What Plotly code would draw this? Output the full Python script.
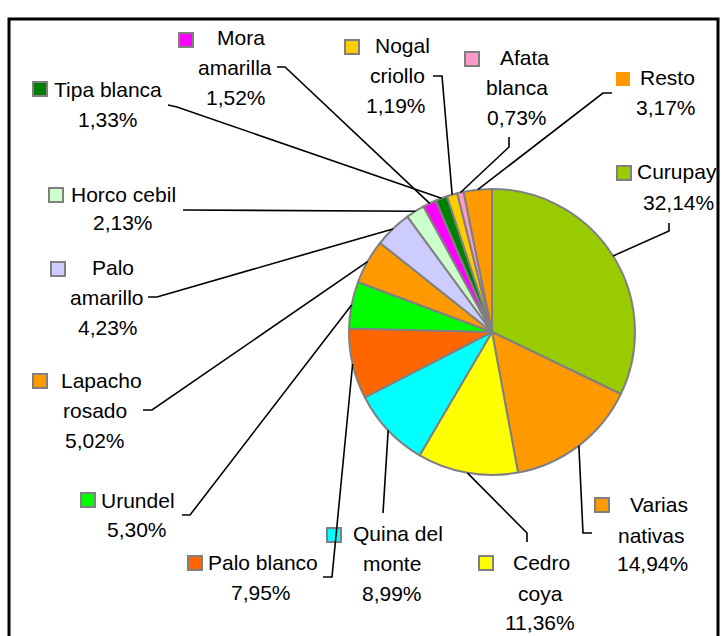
import math
import plotly.graph_objects as go

# ---------------- data ----------------
labels = ["Curupay", "Varias nativas", "Cedro coya", "Quina del monte", "Palo blanco",
          "Urundel", "Lapacho rosado", "Palo amarillo", "Horco cebil", "Mora amarilla",
          "Tipa blanca", "Nogal criollo", "Afata blanca", "Resto"]
values = [32.14, 14.94, 11.36, 8.99, 7.95, 5.30, 5.02, 4.23, 2.13, 1.52, 1.33, 1.19, 0.73, 3.17]
colors = ["#99CC00", "#FF9900", "#FFFF00", "#00FFFF", "#FF6600", "#00FF00", "#FF9900",
          "#CCCCFF", "#CCFFCC", "#FF00FF", "#008000", "#FFCC00", "#FF99CC", "#FF9900"]
name_lines = [["Curupay"], ["Varias", "nativas"], ["Cedro", "coya"], ["Quina del", "monte"],
              ["Palo blanco"], ["Urundel"], ["Lapacho", "rosado"], ["Palo", "amarillo"],
              ["Horco cebil"], ["Mora", "amarilla"], ["Tipa blanca"], ["Nogal", "criollo"],
              ["Afata", "blanca"], ["Resto"]]

# ---------------- layout (pixels) ----------------
W, H = 722, 636
CX, CY, R = 492, 332, 143
FONT = "Liberation Sans, Arial, sans-serif"
FS = 21

# per label: text line centres, marker centre, leader elbow points (label side)
label_layout = {
    "Curupay":         dict(lines=[(677, 172), (678, 202)], marker=(624, 173), leader=[(669, 223), (669, 231)]),
    "Varias nativas":  dict(lines=[(659, 504), (651, 535), (652, 563)], marker=(602, 505), leader=[(592, 533), (583, 533)]),
    "Cedro coya":      dict(lines=[(541, 562), (540, 593), (540, 622)], marker=(486, 563), leader=[(527, 542), (527, 533)]),
    "Quina del monte": dict(lines=[(398, 533), (392, 563), (392, 593)], marker=(334, 535), leader=[(383, 513)]),
    "Palo blanco":     dict(lines=[(263, 562), (261, 592)], marker=(195, 563), leader=[(323, 577), (332, 577)]),
    "Urundel":         dict(lines=[(138, 500), (137, 529)], marker=(88, 500), leader=[(182, 515), (190, 515)]),
    "Lapacho rosado":  dict(lines=[(101, 380), (95, 410), (95, 440)], marker=(40, 381), leader=[(143, 410), (152, 410)]),
    "Palo amarillo":   dict(lines=[(113, 267), (107, 297), (108, 327)], marker=(58, 269), leader=[(148, 297), (157, 297)]),
    "Horco cebil":     dict(lines=[(123, 194), (123, 222)], marker=(56, 195), leader=[(183, 210)]),
    "Mora amarilla":   dict(lines=[(241, 38), (235, 68), (236, 98)], marker=(186, 40), leader=[(277, 67), (285, 67)]),
    "Tipa blanca":     dict(lines=[(108, 89), (108, 119)], marker=(40, 89), leader=[(168, 105), (177, 107)]),
    "Nogal criollo":   dict(lines=[(402, 45), (397, 75), (396, 105)], marker=(352, 47), leader=[(433, 76), (442, 76)]),
    "Afata blanca":    dict(lines=[(524, 57), (517, 87), (517, 117)], marker=(472, 59), leader=[(509, 137), (509, 147)]),
    "Resto":           dict(lines=[(667, 77), (666, 107)], marker=(623, 79), leader=[(612, 93), (603, 93)]),
}
marker_border = {"Resto": False}


def px(x):
    return x / W


def py(y):
    return 1 - y / H


fig = go.Figure()
fig.add_trace(go.Pie(
    labels=labels, values=values, sort=False, direction="clockwise", rotation=0,
    marker=dict(colors=colors, line=dict(color="#808080", width=2)),
    textinfo="none", hoverinfo="label+percent", showlegend=False,
    domain=dict(x=[px(CX - R), px(CX + R)], y=[py(CY + R), py(CY - R)]),
))

shapes = []
annotations = []
total = sum(values)
cum = 0.0
for lab, val, col, nl in zip(labels, values, colors, name_lines):
    mid = (cum + val / 2) / total * 2 * math.pi
    cum += val
    ex = CX + R * math.sin(mid)
    ey = CY - R * math.cos(mid)
    lay = label_layout[lab]
    pct = f"{val:.2f}".replace(".", ",") + "%"
    texts = nl + [pct]
    for (tx, ty), t in zip(lay["lines"], texts):
        annotations.append(dict(x=px(tx), y=py(ty), xref="paper", yref="paper",
                                text=t, showarrow=False, xanchor="center", yanchor="middle",
                                font=dict(family=FONT, size=FS, color="#000000")))
    mx, my = lay["marker"]
    s = 7
    shapes.append(dict(type="rect", xref="paper", yref="paper",
                       x0=px(mx - s), x1=px(mx + s), y0=py(my + s), y1=py(my - s),
                       fillcolor=col,
                       line=dict(color="#808080", width=2 if marker_border.get(lab, True) else 0)))
    pts = lay["leader"] + [(ex, ey)]
    path = "M " + " L ".join(f"{px(x):.5f},{py(y):.5f}" for x, y in pts)
    shapes.append(dict(type="path", xref="paper", yref="paper", path=path,
                       line=dict(color="#000000", width=1.6)))

# outer frame
shapes.append(dict(type="rect", xref="paper", yref="paper",
                   x0=px(9), x1=px(718), y0=py(645), y1=py(19),
                   line=dict(color="#000000", width=3), fillcolor="rgba(0,0,0,0)"))

fig.update_layout(
    width=W, height=H, margin=dict(l=0, r=0, t=0, b=0),
    paper_bgcolor="white", plot_bgcolor="white",
    shapes=shapes, annotations=annotations,
)
fig.write_html(
    "out.html",
    config={"displayModeBar": False},
    post_script="document.body.style.margin='0px';document.body.style.overflow='hidden';",
)
